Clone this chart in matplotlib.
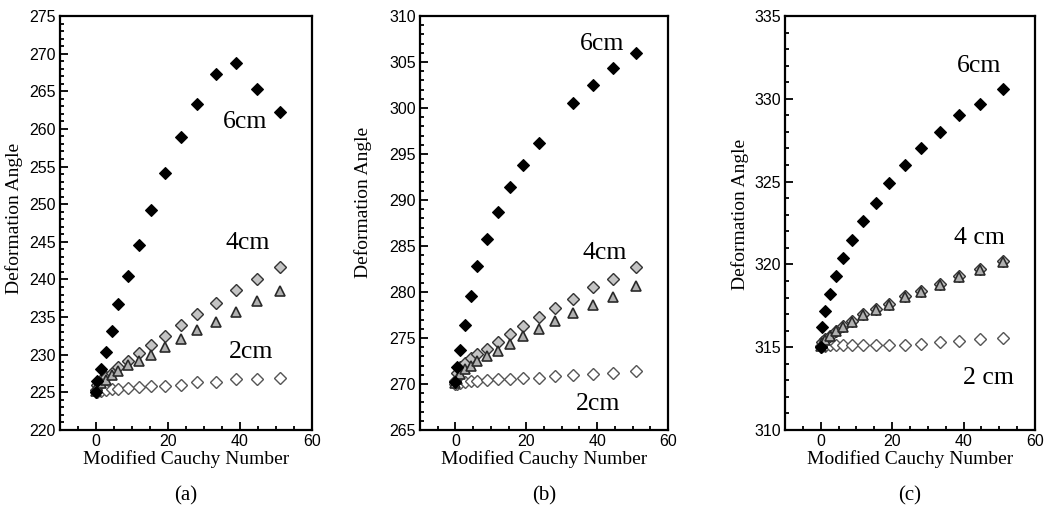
import numpy as np
import matplotlib
matplotlib.use("Agg")
import matplotlib.pyplot as plt
from matplotlib.ticker import MultipleLocator

# Modified Cauchy number (shared by every series)
cauchy = [0, 0.4, 1.3, 2.7, 4.4, 6.2, 8.8, 11.9, 15.4, 19.2, 23.5, 28.1, 33.3, 38.8, 44.6, 51.1]

# panel (a)
a_6cm = [225.0, 226.5, 228.1, 230.3, 233.2, 236.8, 240.4, 244.6, 249.2, 254.1, 258.9, 263.3, 267.3, 268.8, 265.3, 262.2]
a_4cm = [225.3, 226.0, 226.6, 227.1, 227.6, 228.4, 229.2, 230.2, 231.3, 232.5, 233.9, 235.4, 236.9, 238.6, 240.1, 241.7]
a_4cm_tri = [225.2, 225.8, 226.3, 226.7, 227.3, 227.9, 228.6, 229.2, 230.0, 231.0, 232.1, 233.3, 234.4, 235.7, 237.2, 238.4]
a_2cm = [225.0, 225.1, 225.2, 225.3, 225.4, 225.5, 225.6, 225.7, 225.8, 225.9, 226.0, 226.4, 226.4, 226.8, 226.8, 226.9]

# panel (b)
b_6cm = [270.2, 271.8, 273.7, 276.4, 279.6, 282.8, 285.8, 288.7, 291.4, 293.8, 296.2, np.nan, 300.5, 302.5, 304.3, 306.0]
b_4cm = [270.3, 271.2, 271.9, 272.3, 272.8, 273.3, 273.8, 274.6, 275.4, 276.3, 277.3, 278.3, 279.2, 280.5, 281.4, 282.7]
b_4cm_tri = [270.1, 270.5, 271.1, 271.6, 272.0, 272.5, 273.0, 273.6, 274.3, 275.2, 276.0, 276.8, 277.7, 278.6, 279.5, 280.6]
b_2cm = [270.0, 270.05, 270.1, 270.2, 270.3, 270.3, 270.4, 270.5, 270.5, 270.6, 270.7, 270.9, 271.0, 271.1, 271.2, 271.4]

# panel (c)
c_6cm = [315.0, 316.2, 317.2, 318.2, 319.3, 320.4, 321.5, 322.6, 323.7, 324.9, 326.0, 327.0, 328.0, 329.0, 329.7, 330.6]
c_4cm = [315.1, 315.3, 315.5, 315.7, 316.0, 316.3, 316.6, 317.0, 317.3, 317.6, 318.1, 318.4, 318.8, 319.3, 319.7, 320.2]
c_4cm_tri = [315.05, 315.25, 315.45, 315.65, 315.95, 316.25, 316.55, 316.95, 317.25, 317.55, 318.05, 318.35, 318.75, 319.25, 319.65, 320.15]
c_2cm = [315.0, 315.05, 315.1, 315.15, 315.15, 315.15, 315.15, 315.15, 315.15, 315.15, 315.15, 315.2, 315.3, 315.35, 315.5, 315.55]

panels = [
    {"s6": a_6cm, "s4": a_4cm, "s4t": a_4cm_tri, "s2": a_2cm,
     "ylim": (220, 275), "tag": "(a)",
     "labels": [("6cm", 41.5, 260.9), ("4cm", 42.1, 244.8), ("2cm", 43.0, 230.4)]},
    {"s6": b_6cm, "s4": b_4cm, "s4t": b_4cm_tri, "s2": b_2cm,
     "ylim": (265, 310), "tag": "(b)",
     "labels": [("6cm", 41.3, 307.0), ("4cm", 42.1, 284.2), ("2cm", 40.2, 267.8)]},
    {"s6": c_6cm, "s4": c_4cm, "s4t": c_4cm_tri, "s2": c_2cm,
     "ylim": (310, 335), "tag": "(c)",
     "labels": [("6cm", 44.3, 332.0), ("4 cm", 44.5, 321.6), ("2 cm", 47.1, 313.15)]},
]

# axes boxes in pixels (left, right), figure is 1045 x 511
boxes = [(60, 312), (420, 668), (785, 1035)]
ylab_x = [-0.145, -0.195, -0.145]
ylab_y = [0.51, 0.55, 0.52]

W, H = 1045, 511
fig = plt.figure(figsize=(W / 100, H / 100), dpi=100)

serif = "Liberation Serif"
sans = "Liberation Sans"

for i, p in enumerate(panels):
    left, right = boxes[i]
    ax = fig.add_axes([left / W, 1 - 430 / H, (right - left) / W, (430 - 16) / H])

    ax.plot(cauchy, p["s2"], linestyle="none", marker="D", ms=6.3,
            mfc="white", mec="#555555", mew=1.0, zorder=3)
    ax.plot(cauchy, p["s4"], linestyle="none", marker="D", ms=6.5,
            mfc="#c4c4c4", mec="#333333", mew=1.0, zorder=4)
    ax.plot(cauchy, p["s4t"], linestyle="none", marker="^", ms=7,
            mfc="#b0b0b0", mec="#2a2a2a", mew=1.2, zorder=5)
    ax.plot(cauchy, p["s6"], linestyle="none", marker="D", ms=6.6,
            mfc="black", mec="black", mew=0.8, zorder=6)

    ax.set_xlim(-10, 60)
    ax.set_ylim(*p["ylim"])
    ax.xaxis.set_major_locator(MultipleLocator(20))
    ax.xaxis.set_minor_locator(MultipleLocator(5))
    ax.yaxis.set_major_locator(MultipleLocator(5))
    ax.yaxis.set_minor_locator(MultipleLocator(1))
    ax.tick_params(which="both", direction="in", top=False, right=False,
                   width=1.3, labelsize=11.5)
    ax.tick_params(which="major", length=6, pad=3)
    ax.tick_params(which="minor", length=3)
    for lab in ax.get_xticklabels() + ax.get_yticklabels():
        lab.set_fontfamily(sans)
    for sp in ax.spines.values():
        sp.set_linewidth(1.6)

    ax.set_xlabel("Modified Cauchy Number", fontsize=14, family=serif, labelpad=1)
    ax.set_ylabel("Deformation Angle", fontsize=14, family=serif)
    ax.yaxis.set_label_coords(ylab_x[i], ylab_y[i])

    for txt, tx, ty in p["labels"]:
        ax.text(tx, ty, txt, fontsize=18.5, family=serif, ha="center", va="center")

    ax.text(0.5, -0.16, p["tag"], transform=ax.transAxes, fontsize=15,
            family=serif, ha="center", va="center")

fig.savefig("out.png", dpi=100)
